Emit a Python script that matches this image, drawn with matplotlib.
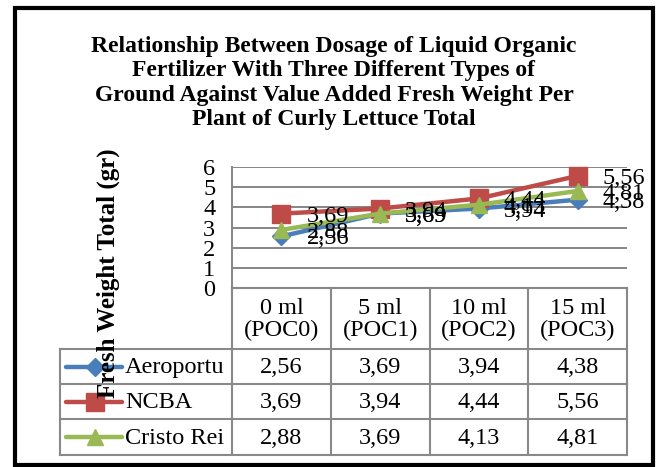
import matplotlib
matplotlib.use("Agg")
import matplotlib.pyplot as plt
from matplotlib.patches import Rectangle
from matplotlib.lines import Line2D

# data
categories = ["0 ml\n(POC0)", "5 ml\n(POC1)", "10 ml\n(POC2)", "15 ml\n(POC3)"]
series_names = ["Aeroportu", "NCBA", "Cristo Rei"]
aeroportu = [2.56, 3.69, 3.94, 4.38]
ncba = [3.69, 3.94, 4.44, 5.56]
cristo_rei = [2.88, 3.69, 4.13, 4.81]
y_ticks = [0, 1, 2, 3, 4, 5, 6]

title = ("Relationship Between Dosage of Liquid Organic\n"
         "Fertilizer With Three Different Types of\n"
         "Ground Against Value Added Fresh Weight Per\n"
         "Plant of Curly Lettuce Total")

plt.rcParams['font.family'] = ['Liberation Serif', 'DejaVu Serif']

W, H = 659, 467
fig = plt.figure(figsize=(W / 100, H / 100), dpi=100)

# overlay axes in pixel coordinates (border, title, table)
ov = fig.add_axes([0, 0, 1, 1])
ov.set_xlim(0, W)
ov.set_ylim(H, 0)
ov.axis("off")

# plot area in pixels
px_left, px_right, px_top, px_bottom = 232, 627, 167, 288

ax = fig.add_axes([px_left / W, 1 - px_bottom / H,
                   (px_right - px_left) / W, (px_bottom - px_top) / H])
ax.set_xlim(-0.5, len(categories) - 0.5)
ax.set_ylim(0, 6)
ax.set_yticks(y_ticks)
ax.set_yticklabels([str(t) for t in y_ticks], fontsize=17.5)
ax.set_xticks([])
ax.tick_params(axis="y", length=0, pad=12)
ax.yaxis.grid(True, color="#868686", lw=1.4)
ax.set_axisbelow(True)
for s in ["top", "right", "bottom"]:
    ax.spines[s].set_visible(False)
ax.spines["left"].set_color("#868686")
ax.spines["left"].set_linewidth(1.4)
ax.patch.set_alpha(0)

colors = ["#4A7EBB", "#BE4B48", "#98B954"]
markers = ["D", "s", "^"]
msizes = [9, 13, 12]
all_series = [aeroportu, ncba, cristo_rei]
xs = list(range(len(categories)))

for vals, c, m, ms in zip(all_series, colors, markers, msizes):
    ax.plot(xs, vals, color=c, lw=3.2, marker=m, markersize=ms,
            markeredgecolor=c, zorder=3, clip_on=False)
for vals in all_series:
    for x, v in zip(xs, vals):
        ax.annotate(f"{v:.2f}".replace(".", ","), (x, v), xytext=(18, 0),
                    textcoords="offset points", ha="left", va="center_baseline",
                    fontsize=17.5, zorder=4, annotation_clip=False)

# outer border
ov.add_patch(Rectangle((15, 8), 638, 457, fill=False, lw=3.0, ec="black"))

# title
ov.text(334, 83, title, ha="center", va="center", fontsize=17,
        fontweight="bold", linespacing=1.2)

# y label
ov.text(108, 273, "Fresh Weight Total (gr)", rotation=90, ha="center",
        va="center", fontsize=18, fontweight="bold", zorder=5)

# data table
gcol = "#898989"
tab_left = 60
col_w = (px_right - px_left) / len(categories)
row_tops = [px_bottom, 349, 384, 419, 455]
lw_t = 1.5

for i in range(len(categories) + 1):
    x = px_left + i * col_w
    ov.plot([x, x], [row_tops[0], row_tops[-1]], color=gcol, lw=lw_t)
ov.plot([tab_left, tab_left], [row_tops[1], row_tops[-1]], color=gcol, lw=lw_t)
ov.plot([px_left, px_right], [row_tops[0], row_tops[0]], color=gcol, lw=lw_t)
for y in row_tops[1:]:
    ov.plot([tab_left, px_right], [y, y], color=gcol, lw=lw_t)

for i, cat in enumerate(categories):
    cx = px_left + (i + 0.5) * col_w
    ov.text(cx, (row_tops[0] + row_tops[1]) / 2 + 1, cat, ha="center",
            va="center", fontsize=17.5, linespacing=1.1)

for r, (name, vals, c, m, ms) in enumerate(zip(series_names, all_series,
                                               colors, markers, msizes)):
    cy = (row_tops[r + 1] + row_tops[r + 2]) / 2
    ov.add_line(Line2D([66, 122], [cy, cy], color=c, lw=3.2,
                       solid_capstyle="round"))
    ov.plot([95], [cy], marker=m, color=c, markersize=ms, markeredgecolor=c)
    ov.text(125, cy + 1, name, ha="left", va="center", fontsize=17.5)
    for i, v in enumerate(vals):
        cx = px_left + (i + 0.5) * col_w
        ov.text(cx, cy + 1, f"{v:.2f}".replace(".", ","), ha="center",
                va="center", fontsize=17.5)

fig.savefig("out.png", dpi=100)
